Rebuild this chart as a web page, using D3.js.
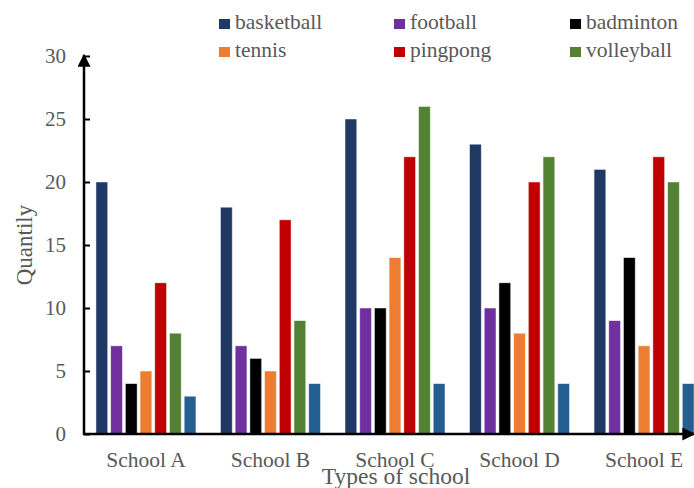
<!DOCTYPE html>
<html>
<head>
<meta charset="utf-8">
<script src="https://cdn.jsdelivr.net/npm/d3@7"></script>
<style>
  body { margin: 0; background: #fff; }
  text { font-family: "Liberation Serif", "Times New Roman", serif; fill: #595959; }
</style>
</head>
<body>
<div id="chart"></div>
<script>
// Data
const schools = ["School A", "School B", "School C", "School D", "School E"];
const sports = ["basketball", "football", "badminton", "tennis", "pingpong", "volleyball", "other"];
const basketball = [20, 18, 25, 23, 21];
const football = [7, 7, 10, 10, 9];
const badminton = [4, 6, 10, 12, 14];
const tennis = [5, 5, 14, 8, 7];
const pingpong = [12, 17, 22, 20, 22];
const volleyball = [8, 9, 26, 22, 20];
const other = [3, 4, 4, 4, 4];
const yTicks = [0, 5, 10, 15, 20, 25, 30];

const seriesValues = [basketball, football, badminton, tennis, pingpong, volleyball, other];
const colors = ["#203864", "#7030A0", "#000000", "#ED7D31", "#C00000", "#548235", "#255E91"];
const legendSports = sports.slice(0, 6);

const width = 694, height = 488;
const x0 = 84, yBase = 434, yTop = 56;

const svg = d3.select("#chart")
  .append("svg")
    .attr("width", width)
    .attr("height", height);

// Scales
const x = d3.scaleBand()
  .domain(schools)
  .range([x0, 706])
  .paddingInner(0.197)
  .paddingOuter(0.096);

const xInner = d3.scaleBand()
  .domain(sports)
  .range([0, x.bandwidth()])
  .paddingInner(0.2);

const y = d3.scaleLinear()
  .domain([0, 30])
  .range([yBase, yTop]);

const color = d3.scaleOrdinal().domain(sports).range(colors);

// Bars
const rows = [];
schools.forEach((s, i) => {
  sports.forEach((k, j) => rows.push({school: s, sport: k, value: seriesValues[j][i]}));
});

svg.append("g")
  .selectAll("rect")
  .data(rows)
  .join("rect")
    .attr("x", d => x(d.school) + xInner(d.sport))
    .attr("y", d => y(d.value))
    .attr("width", xInner.bandwidth())
    .attr("height", d => yBase - y(d.value))
    .attr("fill", d => color(d.sport))
    .attr("stroke", "#ffffff")
    .attr("stroke-opacity", 0.6)
    .attr("stroke-width", 0.8);

// Y axis (ticks point inward, labels on the left)
const yAxis = svg.append("g")
  .attr("transform", `translate(${x0},0)`)
  .call(d3.axisRight(y).tickValues(yTicks).tickSize(6));
yAxis.select(".domain").remove();
yAxis.selectAll(".tick line").attr("stroke", "#000").attr("stroke-width", 2);
yAxis.selectAll(".tick text")
  .attr("text-anchor", "end")
  .attr("x", -18)
  .style("font-size", "21px")
  .attr("fill", "#595959");

// axis lines with arrows
const defs = svg.append("defs");
defs.append("marker")
  .attr("id", "arrow")
  .attr("viewBox", "0 0 10 10")
  .attr("refX", 9).attr("refY", 5)
  .attr("markerWidth", 5.6).attr("markerHeight", 5.2)
  .attr("orient", "auto")
  .append("path")
    .attr("d", "M0,0 L10,5 L0,10 Z")
    .attr("fill", "#000");

svg.append("line")
  .attr("x1", x0).attr("y1", yBase + 1)
  .attr("x2", x0).attr("y2", 55)
  .attr("stroke", "#000").attr("stroke-width", 2.5)
  .attr("marker-end", "url(#arrow)");

svg.append("line")
  .attr("x1", x0 - 1).attr("y1", yBase)
  .attr("x2", 694).attr("y2", yBase)
  .attr("stroke", "#000").attr("stroke-width", 2.5)
  .attr("marker-end", "url(#arrow)");

// X labels
svg.append("g")
  .selectAll("text")
  .data(schools)
  .join("text")
    .attr("x", d => x(d) + x.bandwidth() / 2)
    .attr("y", 467)
    .attr("text-anchor", "middle")
    .style("font-size", "21.5px")
    .text(d => d);

// Axis titles
svg.append("text")
  .attr("x", 396)
  .attr("y", 484)
  .attr("text-anchor", "middle")
  .style("font-size", "23.5px")
  .text("Types of school");

svg.append("text")
  .attr("transform", "translate(32,245) rotate(-90)")
  .attr("text-anchor", "middle")
  .style("font-size", "23px")
  .text("Quantily");

// Legend
const legendX = [219, 394, 570];
const legendY = [19, 47];
const legend = svg.append("g")
  .selectAll("g")
  .data(legendSports)
  .join("g")
    .attr("transform", (d, i) => `translate(${legendX[i % 3]},${legendY[Math.floor(i / 3)]})`);

legend.append("rect")
  .attr("width", 11)
  .attr("height", 10)
  .attr("fill", d => color(d));

legend.append("text")
  .attr("x", 16)
  .attr("y", 10)
  .style("font-size", "21.5px")
  .text(d => d);
</script>
</body>
</html>
